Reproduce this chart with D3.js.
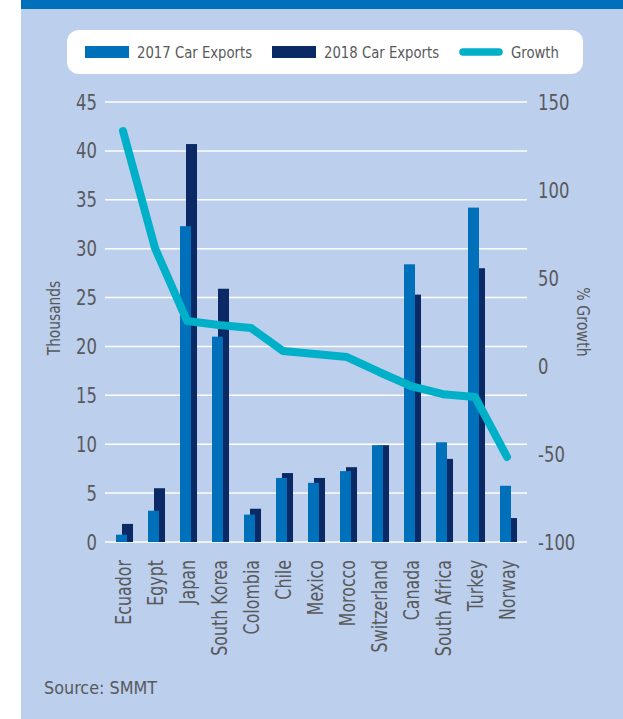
<!DOCTYPE html>
<html lang="en">
<head>
<meta charset="UTF-8">
<title>Car Exports</title>
<script src="https://d3js.org/d3.v7.min.js"></script>
<style>
  body { margin: 0; background: #fff; }
  svg text { font-family: "DejaVu Sans Condensed", "DejaVu Sans", sans-serif; fill: #58595b; }
</style>
</head>
<body>
<svg width="623" height="719"></svg>
<script>
  // data
  var countries = ["Ecuador", "Egypt", "Japan", "South Korea", "Colombia", "Chile", "Mexico",
                   "Morocco", "Switzerland", "Canada", "South Africa", "Turkey", "Norway"];
  var exports2017 = [0.75, 3.2, 32.3, 21.0, 2.8, 6.55, 6.05, 7.25, 9.9, 28.4, 10.2, 34.2, 5.75];
  var exports2018 = [1.85, 5.5, 40.7, 25.9, 3.4, 7.05, 6.55, 7.65, 9.9, 25.3, 8.5, 28.0, 2.45];
  var growth = [133.5, 67, 25.6, 23.3, 21.6, 8.5, 6.8, 5.1, -3.4, -11.4, -16, -17.6, -51.7];
  var leftTicks = [0, 5, 10, 15, 20, 25, 30, 35, 40, 45];
  var rightTicks = [-100, -50, 0, 50, 100, 150];

  var svg = d3.select("svg");

  // squeeze text to mimic the narrow DIN-like face of the original
  function condense(sel, k) {
    sel.each(function() {
      var w = this.getComputedTextLength();
      d3.select(this).attr("textLength", w * k).attr("lengthAdjust", "spacingAndGlyphs");
    });
  }

  // background panel
  svg.append("rect").attr("x", 21).attr("y", 0).attr("width", 602).attr("height", 719).attr("fill", "#bccfed");
  svg.append("rect").attr("x", 21).attr("y", 0).attr("width", 602).attr("height", 9).attr("fill", "#0070ba");

  var x = d3.scaleBand().domain(countries).range([108.5, 524.5]),
      yL = d3.scaleLinear().domain([0, 45]).range([542, 102]),
      yR = d3.scaleLinear().domain([-100, 150]).range([542, 102]);

  var bw = x.bandwidth() * 0.344;
  var cx = function(i) { return x(countries[i]) + x.bandwidth() / 2; };

  // gridlines
  svg.append("g").selectAll("line")
     .data(leftTicks).enter().append("line")
     .attr("x1", 105).attr("x2", 527)
     .attr("y1", function(d) { return yL(d); })
     .attr("y2", function(d) { return yL(d); })
     .attr("stroke", "#fff").attr("stroke-width", 1.5);

  // left axis labels
  svg.append("g").selectAll("text")
     .data(leftTicks).enter().append("text")
     .attr("x", 97).attr("y", function(d) { return yL(d); })
     .attr("dy", "0.36em").attr("text-anchor", "end")
     .attr("font-size", "21px")
     .text(function(d) { return d; })
     .call(condense, 0.87);

  // right axis labels
  svg.append("g").selectAll("text")
     .data(rightTicks).enter().append("text")
     .attr("x", 538).attr("y", function(d) { return yR(d); })
     .attr("dy", "0.36em")
     .attr("font-size", "21px")
     .text(function(d) { return d; })
     .call(condense, 0.87);

  svg.append("text")
     .attr("transform", "translate(54,318) rotate(-90)")
     .attr("text-anchor", "middle").attr("dy", "0.35em")
     .attr("font-size", "17px")
     .text("Thousands")
     .call(condense, 0.9);

  svg.append("text")
     .attr("transform", "translate(583,322) rotate(90)")
     .attr("text-anchor", "middle").attr("dy", "0.35em")
     .attr("font-size", "17px")
     .text("% Growth")
     .call(condense, 0.93);

  // bars, 2018 behind, 2017 in front
  svg.append("g").selectAll("rect")
     .data(exports2018).enter().append("rect")
     .attr("x", function(d, i) { return cx(i) - 2.5; })
     .attr("y", function(d) { return yL(d); })
     .attr("width", bw)
     .attr("height", function(d) { return yL(0) - yL(d); })
     .attr("fill", "#0b2a65");

  svg.append("g").selectAll("rect")
     .data(exports2017).enter().append("rect")
     .attr("x", function(d, i) { return cx(i) - 8.5; })
     .attr("y", function(d) { return yL(d); })
     .attr("width", bw)
     .attr("height", function(d) { return yL(0) - yL(d); })
     .attr("fill", "#0070ba");

  // growth line
  var line = d3.line()
     .x(function(d, i) { return cx(i) - 1.5; })
     .y(function(d) { return yR(d); });

  svg.append("path")
     .datum(growth)
     .attr("d", line)
     .attr("fill", "none")
     .attr("stroke", "#00b0c9")
     .attr("stroke-width", 8)
     .attr("stroke-linecap", "round")
     .attr("stroke-linejoin", "round");

  // category labels
  svg.append("g").selectAll("text")
     .data(countries).enter().append("text")
     .attr("transform", function(d) { return "translate(" + (x(d) + x.bandwidth() / 2 - 1) + ",560) rotate(-90)"; })
     .attr("text-anchor", "end").attr("dy", "0.36em")
     .attr("font-size", "22px")
     .text(function(d) { return d; })
     .call(condense, 0.8);

  // legend
  var lg = svg.append("g");
  lg.append("rect").attr("x", 67).attr("y", 30).attr("width", 516).attr("height", 44)
    .attr("rx", 12).attr("fill", "#fff");
  lg.append("rect").attr("x", 85).attr("y", 46).attr("width", 44).attr("height", 12).attr("fill", "#0070ba");
  lg.append("rect").attr("x", 272).attr("y", 46).attr("width", 44).attr("height", 12).attr("fill", "#0b2a65");
  lg.append("line").attr("x1", 463).attr("x2", 499).attr("y1", 52).attr("y2", 52)
    .attr("stroke", "#00b0c9").attr("stroke-width", 7.5).attr("stroke-linecap", "round");
  var legendText = [["2017 Car Exports", 137], ["2018 Car Exports", 324], ["Growth", 511]];
  lg.selectAll("text").data(legendText).enter().append("text")
    .attr("x", function(d) { return d[1]; }).attr("y", 52).attr("dy", "0.36em")
    .attr("font-size", "16px")
    .text(function(d) { return d[0]; })
    .call(condense, 0.92);

  svg.append("text")
     .attr("x", 44).attr("y", 688).attr("dy", "0.35em")
     .attr("font-size", "18px")
     .text("Source: SMMT")
     .call(condense, 0.99);
</script>
</body>
</html>
